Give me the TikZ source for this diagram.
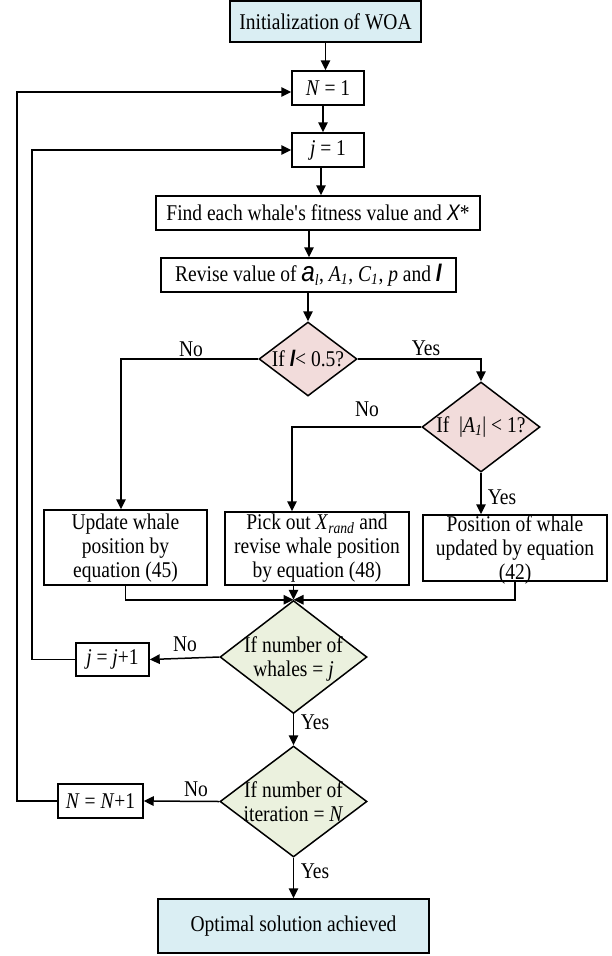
\documentclass[tikz,border=0pt]{standalone}
\usepackage{fontspec}
\setmainfont{Liberation Serif}[FakeStretch=0.867]
\newfontfamily\sansfam{Liberation Sans}[FakeStretch=0.867]
\usetikzlibrary{shapes.geometric,arrows.meta}
\newcommand\sfit[1]{{\sansfam\itshape #1}}
\definecolor{cblue}{HTML}{DAEEF3}
\definecolor{cpink}{HTML}{F2DCDB}
\definecolor{cgreen}{HTML}{EBF1DE}
\begin{document}
\begin{tikzpicture}[x=1pt,y=-1pt,
  font=\fontsize{22.5}{24}\selectfont,
  box/.style={draw, line width=1.5pt, inner sep=0pt, align=center},
  bluebox/.style={box, fill=cblue},
  dia/.style={diamond, draw, line width=1.5pt, inner sep=0pt},
  pinkdia/.style={dia, fill=cpink},
  greendia/.style={dia, fill=cgreen},
  txt/.style={inner sep=0pt, align=center},
  arr/.style={line width=1.5pt, -{Triangle[length=10pt,width=9.5pt]}},
  ln/.style={line width=1.5pt}]
\useasboundingbox (0,0) rectangle (611,956);

% boxes
\node[bluebox, minimum width=191pt, minimum height=41pt] (init) at (325.5,21.5) {Initialization of WOA};
\node[box, minimum width=72pt, minimum height=34pt] (n1) at (328,88) {\textit{N} = 1};
\node[box, minimum width=72pt, minimum height=34pt] (j1) at (328,150) {\textit{j} = 1};
\node[box, minimum width=324pt, minimum height=34pt] (find) at (318,213) {Find each whale\textquotesingle s fitness value and \sfit{X}*};
\node[box, minimum width=295pt, minimum height=34pt] (rev) at (308.5,275)
  {Revise value of {\fontsize{28}{24}\selectfont\sfit{a}}\textsubscript{\textit{l}}, \textit{A}\textsubscript{\textit{1}}, \textit{C}\textsubscript{\textit{1}}, \textit{p} and {\fontsize{24}{24}\selectfont\sfit{\textbf{l}}}};

% decisions
\node[pinkdia, minimum width=98pt, minimum height=74pt] (d1) at (308,359) {};
\node[txt] (d1t) at (308,359) {If \sfit{\textbf{l}}< 0.5?};
\node[pinkdia, minimum width=118pt, minimum height=90pt] (d2) at (481,427) {};
\node[txt] (d2t) at (481,427) {If \ |\textit{A}\textsubscript{\textit{1}}| < 1?};

% update boxes
\node[box, minimum width=163pt, minimum height=75pt] (upd) at (125.5,547.5) {};
\node[txt] (updt) at (125.5,548) {Update whale\\position by\\equation (45)};
\node[box, minimum width=184pt, minimum height=73pt] (pick) at (317,548.5) {};
\node[txt] (pickt) at (317,548.5) {Pick out \textit{X}\textsubscript{\textit{rand}} and\\revise whale position\\by equation (48)};
\node[box, minimum width=184pt, minimum height=66pt] (pos) at (515,548) {};
\node[txt] (post) at (515,550) {Position of whale\\updated by equation\\(42)};

% loop decisions
\node[greendia, minimum width=147pt, minimum height=113pt] (d3) at (293.5,657) {};
\node[txt] (d3t) at (293.5,659) {If number of\\whales = \textit{j}};
\node[greendia, minimum width=147pt, minimum height=111pt] (d4) at (293.5,801.5) {};
\node[txt] (d4t) at (293.5,801.5) {If number of\\iteration = \textit{N}};

\node[box, minimum width=73pt, minimum height=33pt] (jinc) at (112.5,659.5) {\textit{j} = \textit{j}+1};
\node[box, minimum width=85pt, minimum height=34pt] (ninc) at (100.5,801) {\textit{N} = \textit{N}+1};

\node[bluebox, minimum width=271pt, minimum height=54pt] (fin) at (293.5,926) {Optimal solution achieved};

\coordinate (lj) at (32,0);
\coordinate (ln) at (17,0);

% connectors
\draw[arr] (init.south) -- (init.south |- n1.north);
\draw[arr] ([xshift=-5pt]n1.south) -- ([xshift=-5pt]n1.south |- j1.north);
\draw[arr] ([xshift=-7pt]j1.south) -- ([xshift=-7pt]j1.south |- find.north);
\draw[arr] ([xshift=-9pt]find.south) -- ([xshift=-9pt]find.south |- rev.north);
\draw[arr] (rev.south -| d1.north) -- (d1.north);

\draw[arr] (d1.west) -| ([xshift=-4.5pt]upd.north);
\draw[arr] (d1.east) -| (d2.north);
\draw[arr] (d2.west) -| ([xshift=-25pt]pick.north);
\draw[arr] (d2.south) -- (d2.south |- pos.north);

\draw[arr] (upd.south) |- (d3.north);
\draw[arr] (pos.south) |- (d3.north);
\draw[arr] (pick.south -| d3.north) -- (d3.north);

\draw[arr] (d3.west) -- (jinc.east);
\draw[arr] (jinc.west) -- (jinc.west -| lj) |- (j1.west);
\draw[arr] (d3.south) -- (d4.north);
\draw[arr] (d4.west) -- (ninc.east);
\draw[arr] (ninc.west) -- (ninc.west -| ln) |- ([yshift=-4pt]n1.west);
\draw[arr] (d4.south) -- (fin.north);

% labels
\node[txt] (no1) at (191,349) {No};
\node[txt] (yes1) at (426,348) {Yes};
\node[txt] (no2) at (367,409) {No};
\node[txt] (yes2) at (502,497) {Yes};
\node[txt] (no3) at (185,644) {No};
\node[txt] (yes3) at (315,722) {Yes};
\node[txt] (no4) at (196,789) {No};
\node[txt] (yes4) at (315,871) {Yes};
\end{tikzpicture}
\end{document}
